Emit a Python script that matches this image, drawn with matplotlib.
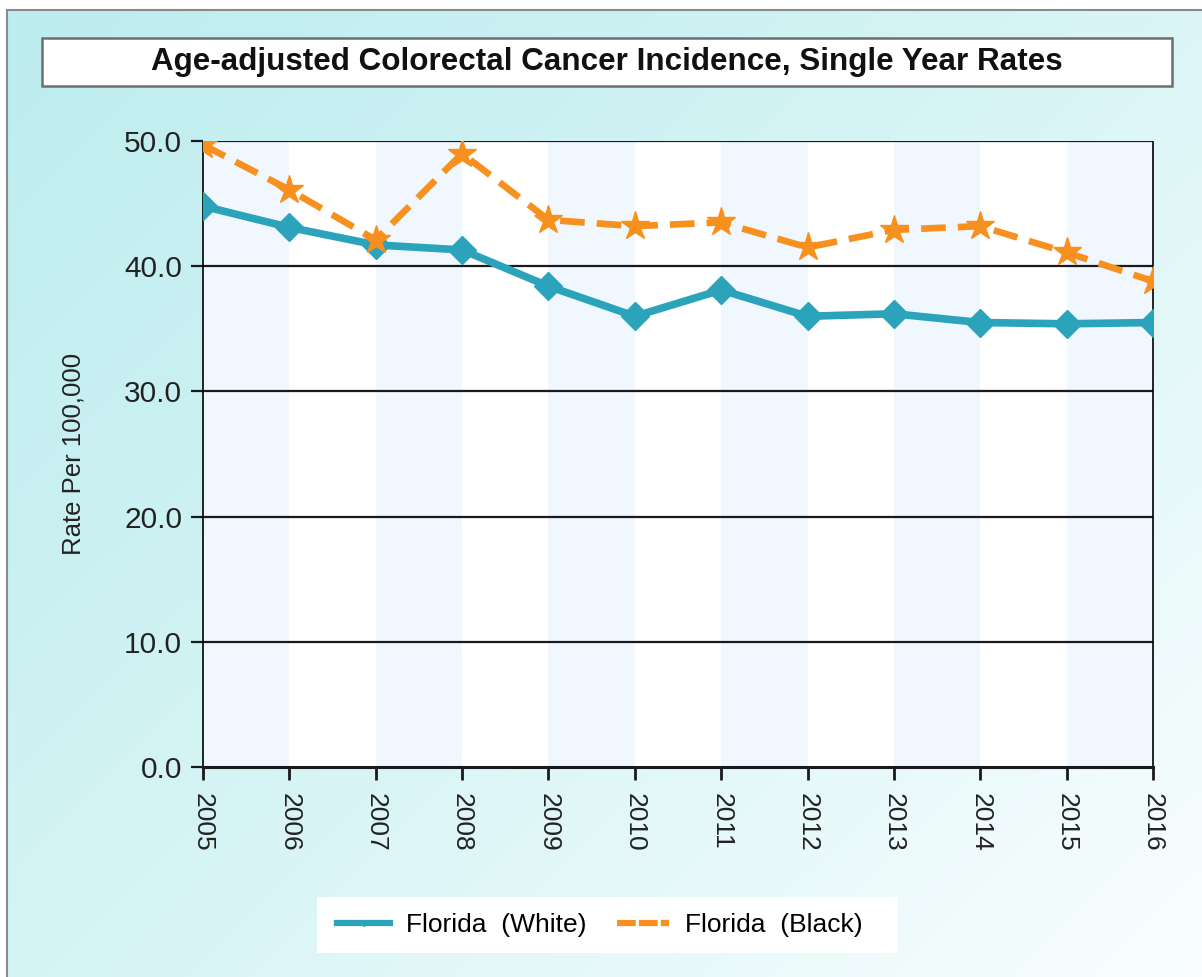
import numpy as np
import matplotlib
matplotlib.use("Agg")
import matplotlib.pyplot as plt
from matplotlib.patches import Rectangle
from matplotlib.lines import Line2D

plt.rcParams['font.family'] = ['Liberation Sans', 'DejaVu Sans']

# ---- data ----
years = [2005, 2006, 2007, 2008, 2009, 2010, 2011, 2012, 2013, 2014, 2015, 2016]
white_rates = [44.8, 43.1, 41.7, 41.3, 38.4, 36.0, 38.1, 36.0, 36.2, 35.5, 35.4, 35.5]
black_rates = [49.7, 46.1, 42.1, 49.0, 43.7, 43.2, 43.5, 41.5, 42.9, 43.2, 41.1, 38.8]
series_labels = ["Florida  (White)", "Florida  (Black)"]
y_ticks = [0, 10, 20, 30, 40, 50]
title = "Age-adjusted Colorectal Cancer Incidence, Single Year Rates"
ylabel = "Rate Per 100,000"

W, H = 1202, 977
fig = plt.figure(figsize=(W / 100, H / 100), dpi=100)

# ---- background gradient ----
bg = fig.add_axes([0, 0, 1, 1], zorder=-10)
bg.set_xlim(0, W)
bg.set_ylim(H, 0)
bg.axis('off')
xx, yy = np.meshgrid(np.linspace(0, 1, 300), np.linspace(0, 1, 250))
t = np.clip(0.55 * xx + 0.45 * yy, 0, 1) ** 1.2
c0 = np.array([190, 237, 239]) / 255.0
c1 = np.array([250, 254, 254]) / 255.0
img = c0[None, None, :] * (1 - t[..., None]) + c1[None, None, :] * t[..., None]
bg.imshow(img, extent=[7, W, H, 10], aspect='auto', interpolation='bilinear')
bg.add_patch(Rectangle((0, 0), W, 9, facecolor='white', edgecolor='none'))
bg.add_patch(Rectangle((0, 0), 7, H, facecolor='white', edgecolor='none'))
bg.plot([7, W], [10, 10], color='#8a8a8a', lw=1.5)
bg.plot([7, 7], [10, H], color='#8a8a8a', lw=1.5)
# title box
bg.add_patch(Rectangle((42, 38), 1130, 48, facecolor='white', edgecolor='#6e6e6e', lw=1.8))
bg.text(607, 62, title, ha='center', va='center', fontsize=22.6, fontweight='bold', color='#111111')
# legend box
bg.add_patch(Rectangle((317, 897), 581, 56, facecolor='white', edgecolor='none'))

# ---- main axes ----
ax = fig.add_axes([203 / W, 1 - 767 / H, (1153 - 203) / W, (767 - 141) / H])
ax.set_facecolor('white')
for i in range(0, len(years) - 1, 2):
    ax.axvspan(years[i], years[i + 1], color='#f0f7fe', lw=0, zorder=0)
ax.set_xlim(years[0], years[-1])
ax.set_ylim(0, 50)
ax.set_yticks(y_ticks)
ax.set_yticklabels([f"{v:.1f}" for v in y_ticks], fontsize=21.5, color='#222222')
ax.set_xticks(years)
ax.set_xticklabels([str(y) for y in years], rotation=270, fontsize=19, color='#222222')
for v in y_ticks[1:]:
    ax.axhline(v, color='#1a1a1a', lw=1.6, zorder=1)
ax.spines['top'].set_visible(False)
ax.spines['left'].set_linestyle((0, (1, 1)))
ax.spines['left'].set_linewidth(1.2)
ax.spines['right'].set_linestyle((0, (1, 1)))
ax.spines['right'].set_linewidth(1.2)
ax.spines['bottom'].set_linewidth(2.2)
ax.spines['bottom'].set_color('#1a1a1a')
ax.tick_params(axis='x', length=9, width=2, pad=10, color='#1a1a1a')
ax.tick_params(axis='y', length=9, width=1.6, pad=6, color='#1a1a1a')
ax.set_ylabel(ylabel, fontsize=18.5, labelpad=28, color='#222222')

teal = '#2ba3bb'
orange = '#f7901e'
ax.plot(years, white_rates, color=teal, lw=5.5, marker='D', ms=14, mec=teal,
        zorder=3, solid_joinstyle='round')
ax.plot(years, black_rates, color=orange, lw=4.8, marker='*', ms=21, mec=orange,
        dashes=(3.7, 1.8), zorder=4)

# ---- legend ----
handles = [Line2D([], [], color=teal, lw=4.5, marker='D', ms=3),
           Line2D([], [], color=orange, lw=4.5, marker='*', ms=4, dashes=(3, 0.5))]
fig.legend(handles, series_labels, loc='center', bbox_to_anchor=(600 / W, 1 - 925 / H),
           ncol=2, frameon=False, fontsize=19, handlelength=2.0, columnspacing=1.15,
           handletextpad=0.6)

fig.savefig('out.png', dpi=100)
